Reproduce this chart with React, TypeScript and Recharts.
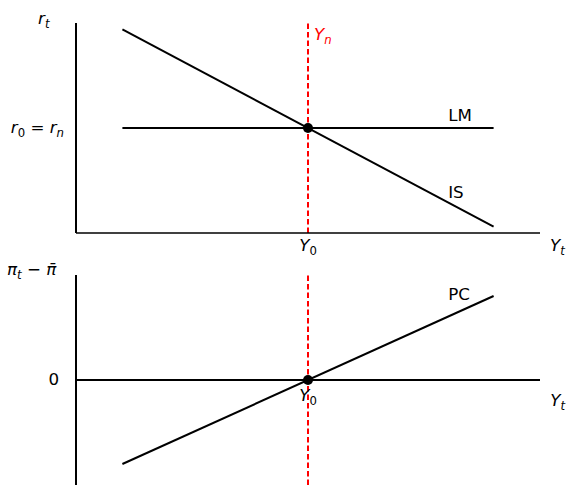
import React from 'react';
import { LineChart, Line, XAxis, YAxis, ReferenceLine, ReferenceDot } from 'recharts';

// ---- data ----
const xPts = [1, 9];
const isVals = [9.7, 0.3];
const lmVals = [5, 5];
const pcVals = [-4, 4];
const Y0 = 5;
const r0 = 5;
const xDomain: [number, number] = [0, 10];
const topYDomain: [number, number] = [0, 10];
const botYDomain: [number, number] = [-5, 5];

const isData = xPts.map((x, i) => ({ x, y: isVals[i] }));
const lmData = xPts.map((x, i) => ({ x, y: lmVals[i] }));
const pcData = xPts.map((x, i) => ({ x, y: pcVals[i] }));

const FONT = 'DejaVu Sans';
const FS = 16.7;
const SUB = 11.7;
const SHIFT = 3.8;
const LW = 2;

type Part = { t: string; italic?: boolean; sub?: boolean };

function MathText({ x, y, parts, anchor = 'start', fill = 'black' }: { x: number; y: number; parts: Part[]; anchor?: string; fill?: string }) {
  let inSub = false;
  const spans: React.ReactNode[] = [];
  parts.forEach((p, i) => {
    let dy = 0;
    if (p.sub && !inSub) { dy = SHIFT; inSub = true; }
    else if (!p.sub && inSub) { dy = -SHIFT; inSub = false; }
    spans.push(
      <tspan key={i} dy={dy || undefined} fontStyle={p.italic ? 'italic' : 'normal'} fontSize={p.sub ? SUB : FS}>
        {p.t}
      </tspan>
    );
  });
  return (
    <text x={x} y={y} textAnchor={anchor as any} fontFamily={FONT} fontSize={FS} fill={fill}>
      {spans}
    </text>
  );
}

const center = (vb: any) => ({ cx: vb.x + vb.width / 2, cy: vb.y + vb.height / 2 });

const dotLabel = (parts: Part[], anchor = 'start', fill = 'black') => (props: any) => {
  const { cx, cy } = center(props.viewBox);
  return <MathText x={cx} y={cy} parts={parts} anchor={anchor} fill={fill} />;
};

const Y0parts: Part[] = [{ t: 'Y', italic: true }, { t: '0', sub: true }];
const Ytparts: Part[] = [{ t: 'Y', italic: true }, { t: 't', italic: true, sub: true }];

const TopYTick = (props: any) => (
  <MathText x={64} y={props.y + 5} anchor="end" parts={[
    { t: 'r', italic: true }, { t: '0', sub: true }, { t: ' = ' }, { t: 'r', italic: true }, { t: 'n', italic: true, sub: true },
  ]} />
);

const TopXTick = (props: any) => (
  <MathText x={props.x} y={251} anchor="middle" parts={Y0parts} />
);

const BotYTick = (props: any) => (
  <text x={59} y={props.y + 5} textAnchor="end" fontFamily={FONT} fontSize={FS} fill="black">0</text>
);

const invisible = { r: 3, fill: 'none', stroke: 'none', ifOverflow: 'visible' as const };

export default function App() {
  return (
    <div style={{ position: 'absolute', left: 0, top: 0, width: 575, height: 495, background: 'white' }}>
      <div style={{ position: 'absolute', left: 0, top: 0 }}>
        <LineChart width={575} height={262} margin={{ top: 23, right: 35, bottom: 12, left: 0 }}>
          <XAxis
            type="number" dataKey="x" domain={xDomain} ticks={[Y0]} interval={0}
            height={17} tickLine={false} axisLine={{ stroke: 'black', strokeWidth: 1.3 }}
            tick={TopXTick}
            label={{
              content: (p: any) => (
                <MathText x={p.viewBox.x + p.viewBox.width + 10} y={251} parts={Ytparts} />
              ),
            }}
          />
          <YAxis
            type="number" dataKey="y" domain={topYDomain} ticks={[r0]} interval={0}
            width={76} tickLine={false} axisLine={{ stroke: 'black', strokeWidth: 2 }}
            tick={TopYTick}
            label={{
              content: (p: any) => (
                <MathText x={38} y={p.viewBox.y + 1} parts={[{ t: 'r', italic: true }, { t: 't', italic: true, sub: true }]} />
              ),
            }}
          />
          <Line data={isData} dataKey="y" type="linear" stroke="black" strokeWidth={LW} dot={false} isAnimationActive={false} />
          <Line data={lmData} dataKey="y" type="linear" stroke="black" strokeWidth={LW} dot={false} isAnimationActive={false} />
          <ReferenceLine x={Y0} stroke="red" strokeWidth={LW} strokeDasharray="5.5 3" />
          <ReferenceDot x={Y0} y={r0} r={5} fill="black" stroke="none" />
          <ReferenceDot x={8.02} y={5.33} {...invisible} label={{ content: dotLabel([{ t: 'LM' }]) }} />
          <ReferenceDot x={8.02} y={1.67} {...invisible} label={{ content: dotLabel([{ t: 'IS' }]) }} />
          <ReferenceDot x={5.13} y={9.19} {...invisible} label={{ content: dotLabel([{ t: 'Y', italic: true }, { t: 'n', italic: true, sub: true }], 'start', 'red') }} />
        </LineChart>
      </div>
      <div style={{ position: 'absolute', left: 0, top: 250 }}>
        <LineChart width={575} height={245} margin={{ top: 25, right: 35, bottom: 10, left: 0 }}>
          <XAxis type="number" dataKey="x" domain={xDomain} hide />
          <YAxis
            type="number" dataKey="y" domain={botYDomain} ticks={[0]} interval={0}
            width={76} tickLine={false} axisLine={{ stroke: 'black', strokeWidth: 2 }}
            tick={BotYTick}
            label={{
              content: (p: any) => (
                <MathText x={7} y={p.viewBox.y} parts={[
                  { t: 'π', italic: true }, { t: 't', italic: true, sub: true }, { t: ' − ' }, { t: 'π\u0304', italic: true },
                ]} />
              ),
            }}
          />
          <ReferenceLine y={0} stroke="black" strokeWidth={2.2} />
          <Line data={pcData} dataKey="y" type="linear" stroke="black" strokeWidth={LW} dot={false} isAnimationActive={false} />
          <ReferenceLine x={Y0} stroke="red" strokeWidth={LW} strokeDasharray="5.5 3" />
          <ReferenceDot x={Y0} y={0} r={5} fill="black" stroke="none" />
          <ReferenceDot x={8.02} y={3.81} {...invisible} label={{ content: dotLabel([{ t: 'PC' }]) }} />
          <ReferenceDot x={Y0} y={-1.0} {...invisible} label={{ content: dotLabel(Y0parts, 'middle') }} />
          <ReferenceDot x={10.22} y={-1.24} {...invisible} label={{ content: dotLabel(Ytparts) }} />
        </LineChart>
      </div>
    </div>
  );
}
